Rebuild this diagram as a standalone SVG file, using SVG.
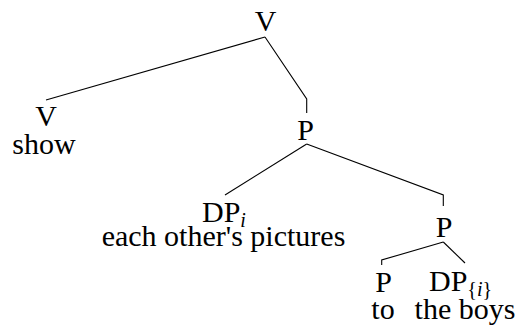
<svg xmlns="http://www.w3.org/2000/svg" width="519" height="328" viewBox="0 0 519 328">
<style>
text{font-family:"Liberation Serif","Times New Roman",serif;font-size:30px;fill:#000}
.c{text-anchor:middle}
.sub{font-size:20px}
.it{font-style:italic}
.e{fill:none;stroke:#000;stroke-width:1.1}
</style>
<rect width="519" height="328" fill="#fff"/>
<g id="connectors">
<path class="e" d="M265,37 L46,100"/>
<path class="e" d="M265,37 L306.7,99 L306.7,113"/>
<path class="e" d="M306.7,144 L225,195"/>
<path class="e" d="M306.7,144 L443.3,195 L443.3,206"/>
<path class="e" d="M443.3,242 L381.7,260 L381.7,265"/>
<path class="e" d="M443.3,242 L465,263"/>
</g>
<g id="n-V-top"><text class="c" x="265.5" y="31">V</text></g>
<g id="n-V-show"><text class="c" x="46" y="126">V</text><text class="c" x="44" y="154">show</text></g>
<g id="n-P-mid"><text class="c" x="305.5" y="140">P</text></g>
<g id="n-DPi"><text x="202" y="222">DP<tspan class="sub it" dy="5">i</tspan></text><text class="c" x="223.5" y="246">each other's pictures</text></g>
<g id="n-P-right"><text class="c" x="444" y="237">P</text></g>
<g id="n-P-to"><text class="c" x="383.5" y="292">P</text><text class="c" x="383" y="319">to</text></g>
<g id="n-DP-boys"><text x="429" y="291">DP<tspan class="sub" dy="5">{</tspan><tspan class="sub it">i</tspan><tspan class="sub">}</tspan></text><text class="c" x="465" y="319">the boys</text></g>
</svg>
